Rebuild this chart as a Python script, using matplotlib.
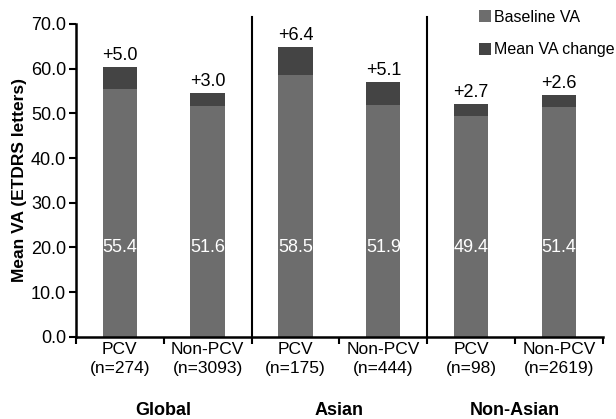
import matplotlib.pyplot as plt
import numpy as np

plt.rcParams["font.family"] = ["Liberation Sans", "DejaVu Sans"]

# Data
groups = ["Global", "Asian", "Non-Asian"]
categories = ["PCV\n(n=274)", "Non-PCV\n(n=3093)", "PCV\n(n=175)", "Non-PCV\n(n=444)", "PCV\n(n=98)", "Non-PCV\n(n=2619)"]
baseline_va = [55.4, 51.6, 58.5, 51.9, 49.4, 51.4]
va_change = [5.0, 3.0, 6.4, 5.1, 2.7, 2.6]

base_color = "#6d6d6d"
change_color = "#444444"

fig = plt.figure(figsize=(6.16, 4.19), dpi=100)
ax = fig.add_axes([0.123, 0.196, 0.856, 0.747])

x = np.arange(len(categories))
width = 0.39
b1 = ax.bar(x, baseline_va, width, color=base_color, label="Baseline VA")
b2 = ax.bar(x, va_change, width, bottom=baseline_va, color=change_color, label="Mean VA change")

for xi, base, chg in zip(x, baseline_va, va_change):
    ax.text(xi, 20, f"{base:.1f}", ha="center", va="center", color="white", fontsize=13)
    ax.text(xi, base + chg + 0.7, f"+{chg:.1f}", ha="center", va="bottom", color="black", fontsize=13)

ax.set_xlim(-0.5, len(categories) - 0.5)
ax.set_ylim(0, 70)
ax.set_yticks(np.arange(0, 71, 10))
ax.set_yticklabels([f"{v:.1f}" for v in np.arange(0, 71, 10)], fontsize=13)
ax.set_ylabel("Mean VA (ETDRS letters)", fontsize=12.5, fontweight="bold", labelpad=3)

# category labels under each bar, ticks at the bar boundaries
ax.set_xticks(x)
ax.set_xticklabels(categories, fontsize=12.5, linespacing=1.3)
ax.tick_params(axis="x", which="major", length=0, pad=4)
ax.set_xticks(np.arange(-0.5, len(categories), 1), minor=True)
ax.tick_params(axis="x", which="minor", length=5, width=1.5, direction="out")
ax.tick_params(axis="y", length=5, width=1.5, direction="out", pad=2)

for side in ["top", "right"]:
    ax.spines[side].set_visible(False)
for side in ["left", "bottom"]:
    ax.spines[side].set_linewidth(1.8)

# group separators
for sep in [1.5, 3.5]:
    ax.plot([sep, sep], [0, 71.5], color="black", linewidth=1.5, clip_on=False)

# group labels
for i, g in enumerate(groups):
    ax.text(2 * i + 0.5, -0.235, g, transform=ax.get_xaxis_transform(), ha="center", va="center",
            fontsize=13, fontweight="bold")

ax.legend(handles=[b1, b2], loc="upper left", bbox_to_anchor=(0.768, 0.992), bbox_transform=fig.transFigure,
          frameon=False, fontsize=11.5, handlelength=0.75, handleheight=0.75, handletextpad=0.15,
          labelspacing=1.1, borderaxespad=0)

fig.savefig("out.png", dpi=100)
